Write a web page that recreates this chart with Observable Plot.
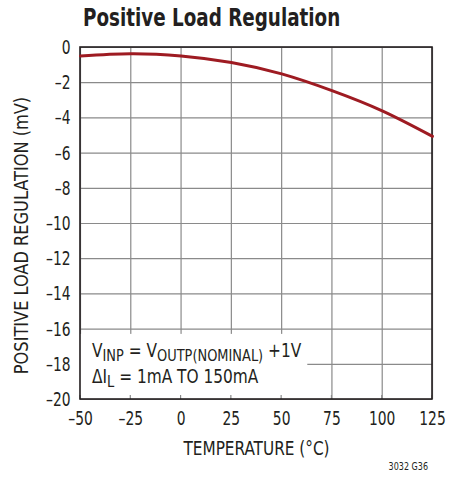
<!DOCTYPE html>
<html>
<head>
<meta charset="utf-8">
<script src="https://cdn.jsdelivr.net/npm/d3@7"></script>
<script src="https://cdn.jsdelivr.net/npm/@observablehq/plot@0.6"></script>
<style>
  html, body { margin: 0; padding: 0; background: #fff; }
  #wrap { position: relative; width: 455px; height: 484px; }
  #title { position: absolute; left: 83px; top: 3px; font-family: "DejaVu Sans Condensed", "Liberation Sans", sans-serif; font-weight: bold; font-size: 25px; line-height: 30px; color: #231f20; white-space: nowrap; transform: scaleX(0.815); transform-origin: 0 0; }
  #chart { position: absolute; left: 0; top: 0; }
  #chart svg { font-family: "DejaVu Sans Condensed", "Liberation Sans", sans-serif; }
</style>
</head>
<body>
<div id="wrap">
  <div id="chart"></div>
  <div id="title">Positive Load Regulation</div>
</div>
<script>
// Data
const temperature = [-50, -25, 0, 25, 50, 75, 100, 125];
const regulation = [-0.48, -0.35, -0.48, -0.85, -1.5, -2.45, -3.6, -5.05];
const xTicks = [-50, -25, 0, 25, 50, 75, 100, 125];
const yTicks = [0, -2, -4, -6, -8, -10, -12, -14, -16, -18, -20];
const xLabel = "TEMPERATURE (°C)";
const yLabel = "POSITIVE LOAD REGULATION (mV)";
const noteLine1 = [["V", ""], ["INP", "sub"], [" = V", ""], ["OUTP(NOMINAL)", "sub"], [" +1V", ""]];
const noteLine2 = [["ΔI", ""], ["L", "sub"], [" = 1mA TO 150mA", ""]];
const footnote = "3032 G36";

const data = temperature.map((t, i) => ({t, v: regulation[i]}));
const fmt = d => d < 0 ? "–" + Math.abs(d) : String(d);

const gridColor = "#8a8a8a";
const ink = "#231f20";
const curveColor = "#9e1b22";

const plot = Plot.plot({
  width: 455,
  height: 484,
  marginLeft: 80,
  marginRight: 23,
  marginTop: 47,
  marginBottom: 85,
  style: {fontSize: "20px", color: ink, background: "transparent", overflow: "visible"},
  x: {domain: [-50, 125]},
  y: {domain: [-20, 0]},
  marks: [
    Plot.gridX(xTicks, {stroke: gridColor, strokeOpacity: 1, strokeWidth: 1.2}),
    Plot.gridY(yTicks, {stroke: gridColor, strokeOpacity: 1, strokeWidth: 1.2}),
    Plot.line(data, {x: "t", y: "v", curve: "natural", stroke: curveColor, strokeWidth: 3}),
    Plot.axisX({ticks: xTicks, tickFormat: fmt, tickSize: 0, tickPadding: 11, label: xLabel, labelAnchor: "center", labelOffset: 55, labelArrow: "none", fill: ink}),
    Plot.axisY({ticks: yTicks, tickFormat: fmt, tickSize: 0, tickPadding: 10, label: yLabel, labelAnchor: "center", labelOffset: 67, labelArrow: "none", fill: ink})
  ]
});
const host = document.getElementById("chart");
host.appendChild(plot);

const svg = d3.select(plot);

// condense text horizontally (the reference uses a condensed face)
function condense(sel, s) {
  sel.each(function() {
    const len = this.getComputedTextLength();
    if (len > 0) d3.select(this).attr("textLength", len * s).attr("lengthAdjust", "spacingAndGlyphs");
  });
}
condense(svg.selectAll("g[aria-label='x-axis tick label'] text, g[aria-label='y-axis tick label'] text"), 0.77);
condense(svg.selectAll("g[aria-label='x-axis label'] text"), 0.85);
const yl = svg.selectAll("g[aria-label='y-axis label'] text");
condense(yl, 0.9);
yl.attr("dx", -12);

// annotation box, inner ticks, frame and notes via the plot's scales
const sx = plot.scale("x"), sy = plot.scale("y");
const X = v => sx.apply(v), Y = v => sy.apply(v);
const over = svg.append("g").attr("text-anchor", "start");
const boxRight = 63, boxTop = -16.3;
over.append("rect")
  .attr("x", X(-50)).attr("y", Y(boxTop))
  .attr("width", X(boxRight) - X(-50)).attr("height", Y(-20) - Y(boxTop))
  .attr("fill", "#fff");
xTicks.forEach(t => {
  over.append("line").attr("x1", X(t)).attr("x2", X(t))
    .attr("y1", Y(-20)).attr("y2", Y(-20) - 4)
    .attr("stroke", gridColor).attr("stroke-width", 1.2);
});
over.append("rect")
  .attr("x", X(-50)).attr("y", Y(0))
  .attr("width", X(125) - X(-50)).attr("height", Y(-20) - Y(0))
  .attr("fill", "none").attr("stroke", ink).attr("stroke-width", 1.6);
svg.select("g[aria-label='line']").raise();

function note(parts, x, y) {
  const t = over.append("text")
    .attr("transform", `translate(${x},${y}) scale(0.9,1)`)
    .attr("font-size", 19).attr("fill", ink).attr("text-anchor", "start");
  parts.forEach(([s, kind], i) => {
    const prev = i > 0 ? parts[i - 1][1] : "";
    let dy = 0;
    if (kind === "sub" && prev !== "sub") dy = 4;
    if (kind !== "sub" && prev === "sub") dy = -4;
    const ts = t.append("tspan").text(s).attr("dy", dy);
    if (kind === "sub") ts.attr("font-size", 16);
  });
}
note(noteLine1, X(-50) + 12, Y(-20) - 42);
note(noteLine2, X(-50) + 12, Y(-20) - 16);

over.append("text")
  .attr("transform", "translate(428,470) scale(0.85,1)")
  .attr("text-anchor", "end").attr("font-size", 10.5).attr("fill", ink)
  .text(footnote);
</script>
</body>
</html>
